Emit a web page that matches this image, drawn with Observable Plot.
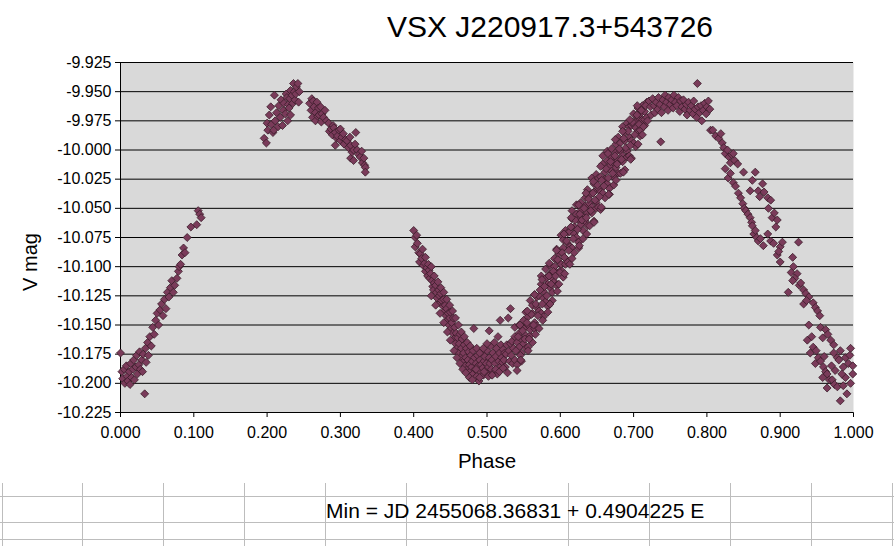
<!DOCTYPE html>
<html>
<head>
<meta charset="utf-8">
<script src="https://cdn.jsdelivr.net/npm/d3@7"></script>
<script src="https://cdn.jsdelivr.net/npm/@observablehq/plot@0.6"></script>
<style>
  body { margin: 0; background: #ffffff; }
  #wrap { position: relative; width: 894px; height: 546px; overflow: hidden; font-family: "Liberation Sans", Arial, sans-serif; color: #000; }
  #wrap svg { position: absolute; left: 0; top: 0; }
  .abs { position: absolute; white-space: nowrap; line-height: 1; }
  .vline { position: absolute; width: 1px; background: #bdbdbd; }
  .hline { position: absolute; height: 1px; background: #bdbdbd; left: 0; width: 894px; }
</style>
</head>
<body>
<div id="wrap">
  <div class="abs" style="left:550px; top:12px; font-size:30px; transform:translateX(-50%);">VSX J220917.3+543726</div>
  <div class="abs" style="left:30px; top:262px; font-size:20px; transform:translate(-50%,-50%) rotate(-90deg);">V mag</div>
  <div class="abs" style="left:487px; top:451px; font-size:20.5px; transform:translateX(-50%);">Phase</div>
  <div id="sheet"></div>
  <div class="abs" style="left:326px; top:500px; font-size:21px;">Min = JD 2455068.36831 + 0.4904225 E</div>
</div>
<script>
const seg1 = [
  [0.000,-10.174],[0.002,-10.190],[0.003,-10.196],[0.005,-10.188],[0.006,-10.200],[0.008,-10.185],[0.009,-10.194],[0.010,-10.198],
  [0.012,-10.190],[0.013,-10.201],[0.014,-10.183],[0.015,-10.195],[0.017,-10.188],[0.018,-10.180],[0.019,-10.197],[0.021,-10.186],
  [0.022,-10.176],[0.023,-10.192],[0.025,-10.184],[0.026,-10.173],[0.027,-10.188],[0.029,-10.180],[0.030,-10.190],[0.031,-10.175],
  [0.033,-10.209],[0.034,-10.170],[0.035,-10.182],[0.037,-10.165],[0.038,-10.176],[0.040,-10.160],[0.042,-10.168],[0.044,-10.152],
  [0.046,-10.158],[0.048,-10.146],[0.050,-10.140],[0.052,-10.150],[0.054,-10.137],[0.056,-10.132],[0.058,-10.142],[0.060,-10.128],
  [0.062,-10.136],[0.064,-10.122],[0.066,-10.126],[0.068,-10.118],[0.070,-10.112],[0.072,-10.122],[0.074,-10.116],[0.077,-10.110],
  [0.079,-10.104],[0.080,-10.100],[0.082,-10.098],[0.084,-10.090],[0.086,-10.084],[0.088,-10.088],[0.091,-10.075],[0.096,-10.066],
  [0.104,-10.064],[0.106,-10.052],[0.108,-10.055],[0.110,-10.058]
];
const seg2 = [
  [0.196,-9.990],[0.199,-9.994],[0.200,-9.977],[0.201,-9.983],[0.203,-9.970],[0.205,-9.963],[0.206,-9.978],[0.208,-9.985],
  [0.209,-9.983],[0.210,-9.953],[0.211,-9.975],[0.213,-9.968],[0.215,-9.980],[0.216,-9.962],[0.218,-9.972],[0.219,-9.957],
  [0.221,-9.979],[0.222,-9.966],[0.223,-9.960],[0.225,-9.969],[0.226,-9.952],[0.227,-9.955],[0.228,-9.975],[0.229,-9.961],
  [0.230,-9.964],[0.231,-9.956],[0.232,-9.949],[0.232,-9.970],[0.234,-9.953],[0.235,-9.960],[0.236,-9.943],[0.237,-9.950],
  [0.238,-9.957],[0.239,-9.952],[0.240,-9.946],[0.242,-9.943],[0.243,-9.959],[0.244,-9.950]
];
const seg3 = [
  [0.258,-9.960],[0.260,-9.966],[0.261,-9.956],[0.262,-9.972],[0.263,-9.958],[0.264,-9.963],[0.266,-9.975],[0.266,-9.968],
  [0.268,-9.959],[0.269,-9.971],[0.270,-9.964],[0.271,-9.970],[0.273,-9.963],[0.274,-9.976],[0.275,-9.969],[0.277,-9.972],
  [0.279,-9.966],[0.281,-9.975],[0.284,-9.977],[0.285,-9.984],[0.287,-9.982],[0.289,-9.987],[0.290,-9.979],[0.291,-9.981],
  [0.293,-9.985],[0.293,-9.996],[0.295,-9.990],[0.296,-9.988],[0.298,-9.983],[0.300,-9.982],[0.300,-9.992],[0.302,-9.989],
  [0.304,-9.986],[0.305,-9.995],[0.307,-9.991],[0.309,-9.992],[0.311,-9.998],[0.313,-9.989],[0.314,-9.996],[0.314,-10.007],
  [0.316,-10.002],[0.318,-10.000],[0.318,-10.009],[0.320,-9.995],[0.321,-9.985],[0.323,-10.000],[0.325,-10.004],[0.327,-10.006],
  [0.329,-10.001],[0.330,-10.011],[0.332,-10.007],[0.333,-10.013],[0.334,-10.015],[0.334,-10.019]
];
const dip = [
  [0.400,-10.069],[0.402,-10.075],[0.404,-10.073],[0.402,-10.083],[0.405,-10.080],[0.407,-10.088],[0.409,-10.089],[0.408,-10.096],
  [0.411,-10.093],[0.413,-10.099],[0.415,-10.097],[0.416,-10.104],[0.418,-10.101],[0.419,-10.108],[0.421,-10.103],[0.422,-10.110],
  [0.423,-10.106],[0.425,-10.112],[0.426,-10.117],[0.427,-10.120],[0.428,-10.114],[0.430,-10.116],[0.431,-10.122],[0.432,-10.127],
  [0.434,-10.120],[0.435,-10.125],[0.436,-10.131],[0.437,-10.123],[0.438,-10.129],[0.440,-10.134],[0.441,-10.128],[0.442,-10.138],
  [0.443,-10.133],[0.444,-10.142],[0.445,-10.136],[0.446,-10.146],[0.447,-10.140],[0.448,-10.150],[0.449,-10.144],[0.450,-10.139],
  [0.451,-10.153],[0.452,-10.148],[0.453,-10.157],[0.454,-10.144],[0.455,-10.162],[0.456,-10.152],[0.457,-10.166],[0.458,-10.157],
  [0.459,-10.170],[0.460,-10.161],[0.461,-10.174],[0.462,-10.166],[0.463,-10.158],[0.464,-10.178],[0.465,-10.170],[0.466,-10.162],
  [0.467,-10.182],[0.468,-10.174],[0.469,-10.167],[0.470,-10.185],[0.471,-10.178],[0.472,-10.170],[0.473,-10.188],[0.474,-10.180],
  [0.475,-10.173],[0.476,-10.184],[0.477,-10.190],[0.478,-10.176],[0.479,-10.186],[0.480,-10.181],[0.482,-10.153],[0.481,-10.192],
  [0.483,-10.178],[0.484,-10.188],[0.485,-10.183],[0.486,-10.194],[0.487,-10.176],[0.488,-10.185],[0.489,-10.198],[0.490,-10.180],
  [0.491,-10.190],[0.492,-10.184],[0.493,-10.174],[0.494,-10.187],[0.495,-10.193],[0.496,-10.181],[0.497,-10.177],[0.498,-10.189],
  [0.499,-10.183],[0.500,-10.172],[0.501,-10.192],[0.502,-10.186],[0.503,-10.155],[0.503,-10.178],[0.504,-10.183],[0.505,-10.168],
  [0.506,-10.188],[0.507,-10.180],[0.508,-10.174],[0.509,-10.191],[0.510,-10.165],[0.511,-10.183],[0.512,-10.177],[0.513,-10.170],
  [0.514,-10.192],[0.515,-10.160],[0.516,-10.181],[0.517,-10.174],[0.518,-10.146],[0.518,-10.186],[0.519,-10.167],[0.520,-10.178],
  [0.521,-10.182],[0.522,-10.171],[0.523,-10.180],[0.524,-10.174],[0.525,-10.186],[0.526,-10.175],[0.527,-10.167],[0.528,-10.191],
  [0.529,-10.144],[0.530,-10.172],[0.531,-10.181],[0.532,-10.136],[0.532,-10.166],[0.533,-10.176],[0.534,-10.164],[0.535,-10.183],
  [0.536,-10.170]
];
const dipExtra = [
  [0.412,-10.085],[0.416,-10.092],[0.420,-10.098],[0.424,-10.100],[0.428,-10.108],[0.433,-10.113],[0.437,-10.118],[0.441,-10.122],
  [0.445,-10.128],[0.449,-10.133],[0.453,-10.138],[0.457,-10.144],[0.461,-10.150],[0.465,-10.156],[0.469,-10.160],[0.473,-10.165],
  [0.477,-10.168],[0.481,-10.172],[0.486,-10.170],[0.490,-10.174],[0.495,-10.170],[0.500,-10.166],
  [0.424,-10.125],[0.430,-10.133],[0.436,-10.140],[0.441,-10.148],[0.446,-10.156],[0.450,-10.163],[0.455,-10.172],[0.459,-10.178],
  [0.463,-10.183],[0.467,-10.188],[0.471,-10.191],[0.476,-10.195],[0.480,-10.197],[0.485,-10.188],[0.490,-10.195],[0.496,-10.190],
  [0.502,-10.194],[0.507,-10.193],[0.512,-10.188],[0.517,-10.190],[0.522,-10.187]
];
const rise = [
  [0.538,-10.160],[0.538,-10.180],[0.538,-10.152],[0.541,-10.184],[0.541,-10.165],[0.541,-10.189],[0.544,-10.157],[0.544,-10.169],
  [0.544,-10.150],[0.547,-10.174],[0.547,-10.162],[0.547,-10.181],[0.550,-10.153],[0.550,-10.166],[0.550,-10.146],[0.553,-10.170],
  [0.553,-10.139],[0.553,-10.159],[0.556,-10.143],[0.556,-10.169],[0.556,-10.150],[0.559,-10.159],[0.559,-10.129],[0.559,-10.154],
  [0.562,-10.133],[0.562,-10.165],[0.562,-10.140],[0.565,-10.148],[0.565,-10.124],[0.565,-10.153],[0.568,-10.135],[0.568,-10.151],
  [0.568,-10.126],[0.571,-10.153],[0.571,-10.125],[0.571,-10.138],[0.574,-10.115],[0.574,-10.140],[0.574,-10.108],[0.577,-10.143],
  [0.577,-10.121],[0.577,-10.127],[0.580,-10.110],[0.580,-10.130],[0.580,-10.102],[0.583,-10.134],[0.583,-10.115],[0.583,-10.139],
  [0.586,-10.106],[0.586,-10.118],[0.586,-10.099],[0.589,-10.122],[0.589,-10.110],[0.589,-10.129],[0.592,-10.100],[0.592,-10.113],
  [0.592,-10.093],[0.595,-10.116],[0.595,-10.085],[0.595,-10.105],[0.598,-10.089],[0.598,-10.115],[0.598,-10.096],[0.601,-10.103],
  [0.601,-10.073],[0.601,-10.098],[0.604,-10.077],[0.604,-10.109],[0.604,-10.084],[0.607,-10.093],[0.607,-10.069],[0.607,-10.098],
  [0.610,-10.080],[0.610,-10.096],[0.610,-10.071],[0.613,-10.098],[0.613,-10.070],[0.613,-10.083],[0.616,-10.059],[0.616,-10.084],
  [0.616,-10.052],[0.619,-10.088],[0.619,-10.066],[0.619,-10.072],[0.622,-10.055],[0.622,-10.075],[0.622,-10.047],[0.625,-10.079],
  [0.625,-10.060],[0.625,-10.084],[0.628,-10.052],[0.628,-10.064],[0.628,-10.045],[0.631,-10.069],[0.631,-10.057],[0.631,-10.076],
  [0.634,-10.048],[0.634,-10.061],[0.634,-10.041],[0.637,-10.065],[0.637,-10.034],[0.637,-10.054],[0.640,-10.039],[0.640,-10.065],
  [0.640,-10.046],[0.643,-10.054],[0.643,-10.024],[0.643,-10.049],[0.646,-10.029],[0.646,-10.061],[0.646,-10.036],[0.649,-10.045],
  [0.649,-10.021],[0.649,-10.050],[0.652,-10.033],[0.652,-10.049],[0.652,-10.024],[0.655,-10.051],[0.655,-10.023],[0.655,-10.036],
  [0.658,-10.012],[0.658,-10.037],[0.658,-10.005],[0.661,-10.041],[0.661,-10.019],[0.661,-10.025],[0.664,-10.009],[0.664,-10.029],
  [0.664,-10.001],[0.667,-10.033],[0.667,-10.014],[0.667,-10.038],[0.670,-10.006],[0.670,-10.018],[0.670,-9.999],[0.673,-10.023],
  [0.673,-10.011],[0.673,-10.030],[0.676,-10.002],[0.676,-10.015],[0.676,-9.995],[0.679,-10.020],[0.679,-9.989],[0.679,-10.009],
  [0.682,-9.994],[0.682,-10.020],[0.682,-10.001],[0.685,-10.010],[0.685,-9.980],[0.685,-10.005],[0.688,-9.985],[0.688,-10.017],
  [0.688,-9.992],[0.691,-10.001],[0.691,-9.977],[0.691,-10.006],[0.694,-9.989],[0.694,-10.005],[0.694,-9.980],[0.697,-10.007],
  [0.697,-9.979],[0.697,-9.992],[0.700,-9.969],[0.700,-9.994],[0.700,-9.978],[0.703,-9.997],[0.703,-9.975],[0.703,-9.981],
  [0.706,-9.964],[0.706,-9.984],[0.706,-9.972],[0.709,-9.988],[0.709,-9.969],[0.709,-9.983],[0.712,-9.962],[0.712,-9.974],
  [0.712,-9.987],[0.715,-9.979],[0.715,-9.967],[0.715,-9.974],[0.718,-9.959],[0.718,-9.972]
];
const riseExtra = [
  [0.5395,-10.172],[0.5425,-10.160],[0.5455,-10.176],[0.5485,-10.155],[0.5515,-10.162],[0.5545,-10.148],[0.5575,-10.162],[0.5605,-10.141],
  [0.5635,-10.150],[0.5665,-10.132],[0.5695,-10.142],[0.5725,-10.120],[0.5755,-10.132],[0.5785,-10.117],[0.5815,-10.125],[0.5845,-10.108],
  [0.5875,-10.115],[0.5905,-10.104],[0.5935,-10.108],[0.5965,-10.094],[0.5995,-10.105],[0.6025,-10.088],[0.6055,-10.092],[0.6085,-10.078],
  [0.6115,-10.086],[0.6145,-10.066],[0.6175,-10.076],[0.6205,-10.060],[0.6235,-10.068],[0.6265,-10.055],[0.6295,-10.060],[0.6325,-10.050],
  [0.6355,-10.058],[0.6385,-10.042],[0.6415,-10.052],[0.6445,-10.037],[0.6475,-10.043],[0.6505,-10.030],[0.6535,-10.040],[0.6565,-10.026],
  [0.6595,-10.031],[0.6625,-10.016],[0.6655,-10.024],[0.6685,-10.010],[0.6715,-10.020],[0.6745,-10.005],[0.6775,-10.012],[0.6805,-9.999],
  [0.6835,-10.008],[0.6865,-9.990],[0.6895,-9.998],[0.6925,-9.984],[0.6955,-9.996],[0.6985,-9.976],[0.7015,-9.987],[0.7045,-9.970],
  [0.7075,-9.978],[0.7105,-9.966],[0.7135,-9.980],[0.7165,-9.962]
];
const riseEdges = [
  [0.545,-10.150],[0.546,-10.180],[0.555,-10.138],[0.556,-10.172],[0.565,-10.124],[0.566,-10.158],[0.575,-10.111],[0.576,-10.146],
  [0.585,-10.097],[0.586,-10.132],[0.595,-10.086],[0.596,-10.121],[0.605,-10.072],[0.606,-10.106],[0.615,-10.058],[0.616,-10.093],
  [0.625,-10.047],[0.626,-10.082],[0.635,-10.037],[0.636,-10.072],[0.645,-10.027],[0.646,-10.062],[0.655,-10.014],[0.656,-10.049],
  [0.665,-10.003],[0.666,-10.038],[0.675,-9.991],[0.676,-10.026],[0.685,-9.984],[0.686,-10.019],[0.695,-9.974],[0.696,-10.008],
  [0.705,-9.962],[0.706,-9.995]
];
const plateau = [
  [0.719,-9.975],[0.721,-9.958],[0.723,-9.963],[0.724,-9.970],[0.726,-9.956],[0.728,-9.962],[0.729,-9.968],[0.731,-9.959],
  [0.733,-9.965],[0.734,-9.955],[0.736,-9.961],[0.737,-9.993],[0.738,-9.968],[0.740,-9.957],[0.742,-9.963],[0.743,-9.953],
  [0.745,-9.959],[0.747,-9.966],[0.748,-9.955],[0.750,-9.961],[0.752,-9.957],[0.754,-9.964],[0.755,-9.953],[0.757,-9.959],
  [0.759,-9.962],[0.761,-9.955],[0.763,-9.967],[0.764,-9.958],[0.766,-9.963],[0.768,-9.957],[0.770,-9.965],[0.772,-9.961],
  [0.773,-9.970],[0.775,-9.959],[0.777,-9.966],[0.779,-9.962],[0.781,-9.969],[0.782,-9.958],[0.784,-9.965],[0.786,-9.972],
  [0.787,-9.943],[0.788,-9.963],[0.790,-9.968],[0.792,-9.962],[0.793,-9.975],[0.795,-9.966],[0.797,-9.960],[0.799,-9.969],
  [0.800,-9.963],[0.802,-9.958],[0.804,-9.965]
];
const fall = [
  [0.805,-9.983],[0.808,-9.983],[0.812,-9.988],[0.816,-9.990],[0.819,-9.986],[0.821,-9.994],[0.823,-9.998],[0.825,-10.003],
  [0.828,-10.000],[0.830,-10.006],[0.832,-10.011],[0.834,-10.004],[0.836,-10.003],[0.838,-10.009],[0.842,-10.012],[0.825,-10.016],
  [0.829,-10.024],[0.832,-10.020],[0.836,-10.028],[0.839,-10.031],[0.843,-10.037],[0.846,-10.041],[0.849,-10.046],[0.851,-10.050],
  [0.853,-10.052],[0.856,-10.055],[0.859,-10.058],[0.861,-10.062],[0.862,-10.065],[0.864,-10.072],[0.866,-10.069],[0.868,-10.075],
  [0.870,-10.078],[0.873,-10.076],[0.877,-10.082],[0.850,-10.019],[0.866,-10.019],[0.862,-10.026],[0.859,-10.035],[0.870,-10.035],
  [0.876,-10.029],[0.872,-10.040],[0.878,-10.036],[0.883,-10.041],[0.887,-10.043],[0.884,-10.050],[0.889,-10.058],[0.892,-10.054],
  [0.896,-10.060],[0.894,-10.066],[0.883,-10.072],[0.887,-10.078],[0.891,-10.080],[0.900,-10.083],[0.903,-10.079],[0.925,-10.079],
  [0.896,-10.090],[0.898,-10.087],[0.900,-10.096],[0.917,-10.092],[0.918,-10.100],[0.915,-10.105],[0.923,-10.106],[0.920,-10.110],
  [0.917,-10.112],[0.926,-10.116],[0.928,-10.114],[0.911,-10.122],[0.932,-10.120],[0.935,-10.123],[0.939,-10.126],[0.932,-10.132],
  [0.936,-10.129],[0.945,-10.131],[0.948,-10.135],[0.951,-10.138],[0.954,-10.142],[0.939,-10.150],[0.955,-10.152],[0.962,-10.154],
  [0.958,-10.161],[0.965,-10.158],[0.969,-10.163],[0.973,-10.167],[0.937,-10.163],[0.943,-10.160],[0.945,-10.169],[0.941,-10.174],
  [0.949,-10.172],[0.952,-10.178],[0.948,-10.183],[0.955,-10.181],[0.959,-10.186],[0.962,-10.190],[0.964,-10.192],[0.958,-10.195],
  [0.967,-10.197],[0.971,-10.197],[0.974,-10.201],[0.978,-10.203],[0.982,-10.215],[0.964,-10.204],[0.975,-10.189],[0.982,-10.172],
  [0.978,-10.178],[0.989,-10.178],[0.996,-10.170],[0.993,-10.183],[0.999,-10.192],[0.989,-10.195],[0.996,-10.200],[0.986,-10.202],
  [0.991,-10.209],[0.980,-10.180],[0.973,-10.174],[0.986,-10.186],[0.984,-10.192],[0.995,-10.176],[0.999,-10.185],[0.970,-10.185],
  [0.960,-10.177]
];

const xTicks = [0.0, 0.1, 0.2, 0.3, 0.4, 0.5, 0.6, 0.7, 0.8, 0.9, 1.0];
const yTicks = [-10.225, -10.200, -10.175, -10.150, -10.125, -10.100, -10.075, -10.050, -10.025, -10.000, -9.975, -9.950, -9.925];

const data = [...seg1, ...seg2, ...seg3, ...dip, ...dipExtra, ...rise, ...riseExtra, ...riseEdges, ...plateau, ...fall]
  .map(([phase, mag]) => ({phase, mag}));

const chart = Plot.plot({
  width: 894,
  height: 480,
  marginLeft: 120,
  marginRight: 41,
  marginTop: 62,
  marginBottom: 68,
  style: {
    fontFamily: "'Liberation Sans', Arial, sans-serif",
    fontSize: "16px",
    color: "#000",
    background: "transparent",
    overflow: "visible"
  },
  x: {
    domain: [0, 1],
    ticks: xTicks,
    tickFormat: d => d.toFixed(3),
    tickSize: 5,
    tickPadding: 9,
    label: null
  },
  y: {
    domain: [-10.225, -9.925],
    ticks: yTicks,
    tickFormat: d => d.toFixed(3),
    tickSize: 5,
    tickPadding: 4,
    label: null
  },
  marks: [
    Plot.frame({fill: "#d9d9d9", stroke: "none"}),
    Plot.ruleY(yTicks, {stroke: "#000", strokeWidth: 1}),
    Plot.ruleX([0], {stroke: "#000", strokeWidth: 1}),
    Plot.dot(data, {x: "phase", y: "mag", symbol: "diamond2", r: 3.6, fill: "#7a3b5a", stroke: "#3a1c2a", strokeWidth: 0.8})
  ]
});
document.getElementById("wrap").appendChild(chart);

// spreadsheet grid beneath the chart
const sheet = document.getElementById("sheet");
const colX = [2, 82, 163, 244, 325, 406, 487, 568, 649, 730, 811, 892];
const rowY = [496, 522, 539];
for (const x of colX) {
  const d = document.createElement("div");
  d.className = "vline";
  d.style.left = x + "px"; d.style.top = "483px"; d.style.height = "63px";
  sheet.appendChild(d);
}
for (const y of rowY) {
  const d = document.createElement("div");
  d.className = "hline";
  d.style.top = y + "px";
  sheet.appendChild(d);
}
</script>
</body>
</html>
